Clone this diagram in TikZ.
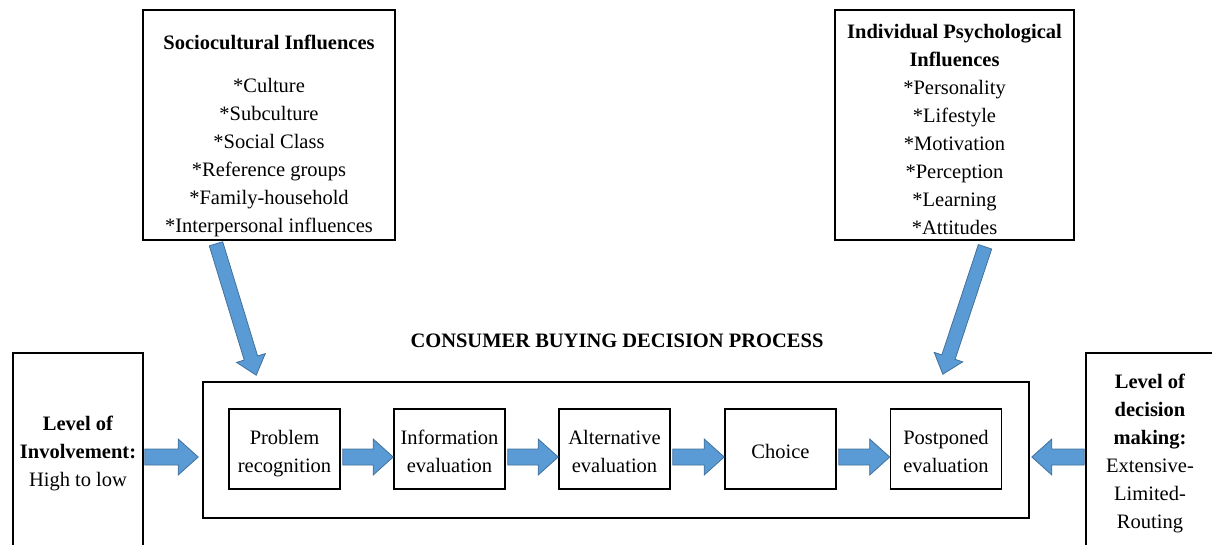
\documentclass[tikz,border=0pt]{standalone}
\usepackage{fontspec}
\setmainfont{Liberation Serif}
\usetikzlibrary{calc}
\definecolor{arrowblue}{HTML}{5B9BD5}
\definecolor{arrowedge}{HTML}{41719C}
\newcommand{\topstrut}[1]{\rule{0pt}{#1}}
\newcommand{\botstrut}[1]{\rule[-#1]{0pt}{#1}}
\newcommand{\blockarrow}[5]{%
  \coordinate (tmpC) at ($(#2)!#5!(#1)$);
  \filldraw[barrow] ($(#1)!#3!90:(#2)$) -- ($(tmpC)!#3!90:(#2)$) -- ($(tmpC)!#4!90:(#2)$) -- (#2)
    -- ($(tmpC)!#4!-90:(#2)$) -- ($(tmpC)!#3!-90:(#2)$) -- ($(#1)!#3!-90:(#2)$) -- cycle;
}
\begin{document}
\begin{tikzpicture}[x=1pt,y=-1pt,
  every node/.style={font=\fontsize{20.5}{28}\selectfont},
  box/.style={draw=black, line width=1.6pt, inner sep=0pt},
  txt/.style={align=center, inner sep=0pt},
  barrow/.style={fill=arrowblue, draw=arrowedge, line width=0.8pt, line join=miter}]
\useasboundingbox (0,0) rectangle (1212,544);

% top influence boxes
\node[box, minimum width=252, minimum height=230] (soc) at (269,125) {};
\node[txt] (soct) at (269,136) {\textbf{Sociocultural Influences}\\[15pt]
  *Culture\\ *Subculture\\ *Social Class\\ *Reference groups\\ *Family-household\\ *Interpersonal influences};
\node[box, minimum width=239, minimum height=230] (ind) at (954.5,125) {};
\node[txt] (indt) at (954.5,129.5) {\textbf{Individual Psychological}\\ \textbf{Influences}\\
  *Personality\\ *Lifestyle\\ *Motivation\\ *Perception\\ *Learning\\ *Attitudes};

% side boxes
\node[box, txt, minimum width=130, minimum height=197] (lvl) at (78,451.5)
  {\topstrut{19pt}\textbf{Level of}\\ \textbf{Involvement:}\\ High to low\botstrut{5pt}};
\node[box, txt, minimum width=128, minimum height=197] (rgt) at (1150,451.5)
  {\topstrut{19pt}\textbf{Level of}\\ \textbf{decision}\\ \textbf{making:}\\ Extensive-\\ Limited-\\ Routing\botstrut{5pt}};

% title and main process box
\node[txt] (title) at (617,341) {\textbf{CONSUMER BUYING DECISION PROCESS}};
\node[box, minimum width=826, minimum height=136] (main) at (616,450) {};

\tikzset{stage/.style={box, txt, minimum width=111, minimum height=80}}
\node[stage] (prob) at (284.5,449) {\topstrut{24pt}Problem\\ recognition\botstrut{5pt}};
\node[stage] (info) at (449.5,449) {\topstrut{24pt}Information\\ evaluation\botstrut{5pt}};
\node[stage] (alt) at (614.5,449) {\topstrut{24pt}Alternative\\ evaluation\botstrut{5pt}};
\node[stage] (choice) at (780.5,449) {\topstrut{24pt}Choice\botstrut{5pt}};
\node[stage] (post) at (946,449) {\topstrut{24pt}Postponed\\ evaluation\botstrut{5pt}};

% connector end points
\coordinate (p1s) at ($(prob.east)+(2,8)$);   \coordinate (p1e) at ($(info.west)+(0,8)$);
\coordinate (p2s) at ($(info.east)+(2,8)$);   \coordinate (p2e) at ($(alt.west)+(0,8)$);
\coordinate (p3s) at ($(alt.east)+(2,8)$);    \coordinate (p3e) at ($(choice.west)+(0,8)$);
\coordinate (p4s) at ($(choice.east)+(2,8)$); \coordinate (p4e) at ($(post.west)+(0,8)$);
\coordinate (ls) at ($(lvl.east)+(1,5.5)$);   \coordinate (le) at ($(main.west)+(-4,7)$);
\coordinate (rs) at ($(rgt.west)+(-1,5.5)$);  \coordinate (re) at ($(main.east)+(2,7)$);
\coordinate (ss) at ($(soc.south)+(-53,3)$);  \coordinate (se) at ($(main.north west)+(54,-6)$);
\coordinate (is) at ($(ind.south)+(30.5,6)$); \coordinate (ie) at ($(main.north east)+(-87,-7)$);

% block arrows
\blockarrow{p1s}{p1e}{8pt}{18pt}{20pt}
\blockarrow{p2s}{p2e}{8pt}{18pt}{20pt}
\blockarrow{p3s}{p3e}{8pt}{18pt}{20pt}
\blockarrow{p4s}{p4e}{8pt}{18pt}{20pt}
\blockarrow{ls}{le}{8pt}{18pt}{20pt}
\blockarrow{rs}{re}{8pt}{18pt}{20pt}
\blockarrow{ss}{se}{7pt}{15pt}{18pt}
\blockarrow{is}{ie}{7pt}{15pt}{18pt}
\end{tikzpicture}
\end{document}
